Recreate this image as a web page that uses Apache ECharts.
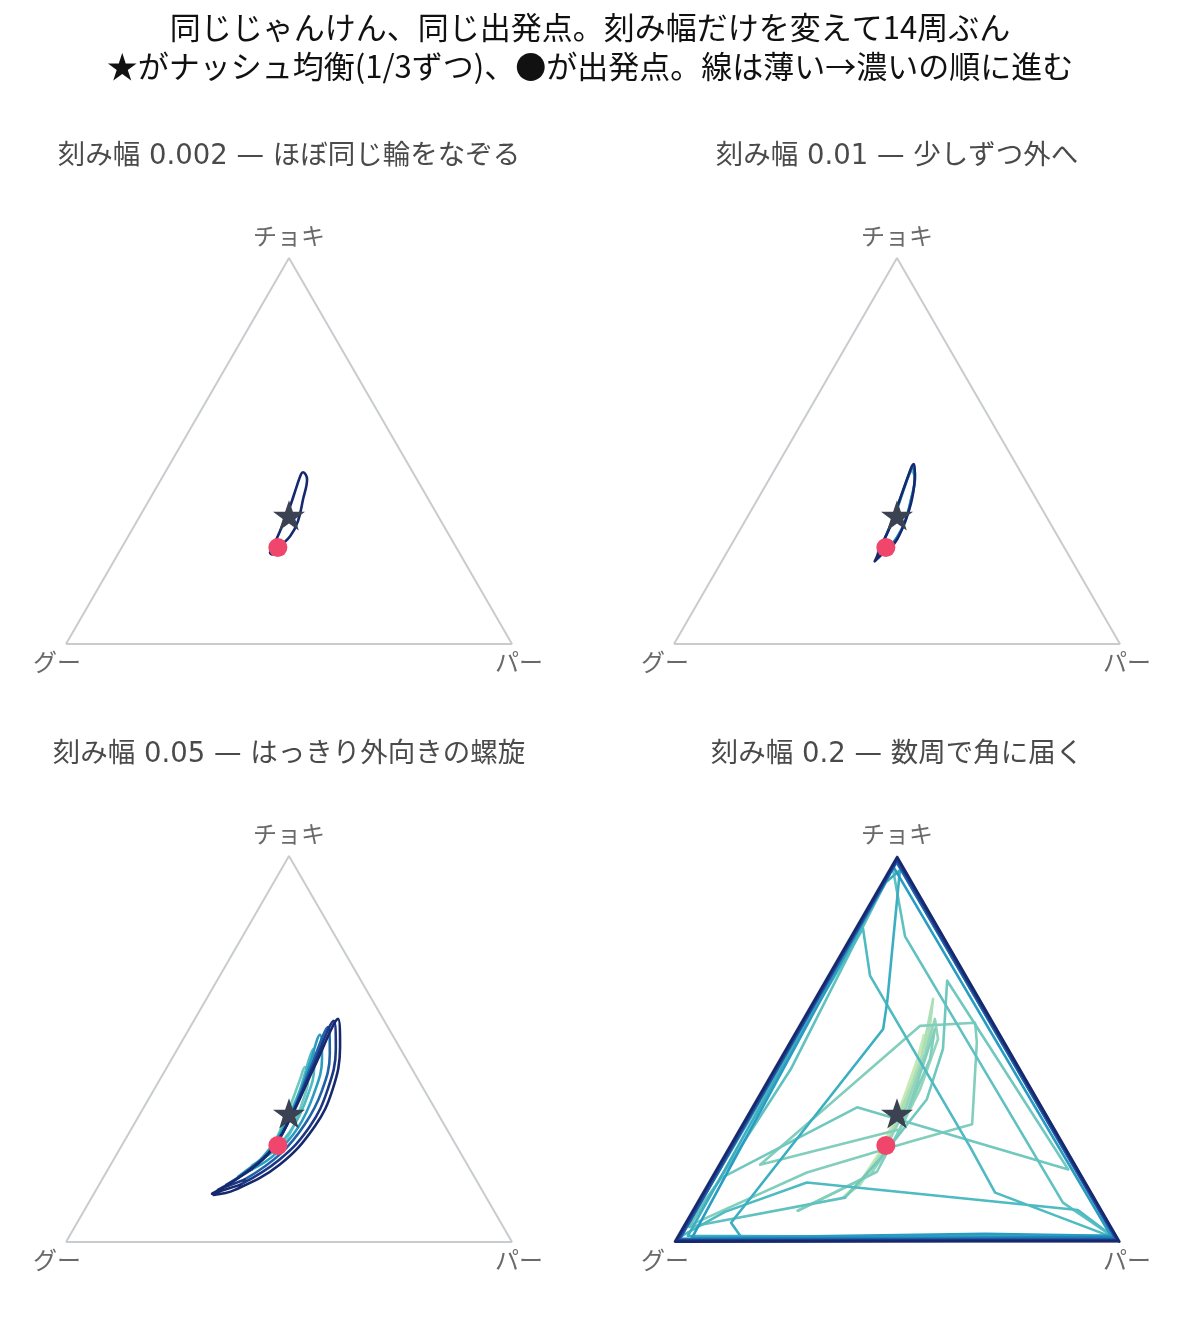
<!DOCTYPE html>
<html><head><meta charset="utf-8">
<script src="https://cdn.jsdelivr.net/npm/echarts@6/dist/echarts.min.js"></script>
<style>html,body{margin:0;padding:0;background:#fff}#c{width:1185px;height:1318px}</style>
</head><body><div id="c"></div><script>
// ---- data (shares: [グー, チョキ, パー]) ----
const mainTitle = ['同じじゃんけん、同じ出発点。刻み幅だけを変えて14周ぶん',
                   '★がナッシュ均衡(1/3ずつ)、●が出発点。線は薄い→濃いの順に進む'];
const panelTitles = ['刻み幅 0.002 — ほぼ同じ輪をなぞる','刻み幅 0.01 — 少しずつ外へ',
                     '刻み幅 0.05 — はっきり外向きの螺旋','刻み幅 0.2 — 数周で角に届く'];
const vertexLabels = ['グー','チョキ','パー'];
const startPoint = [0.40, 0.25, 0.35];
const nashPoint = [1/3, 1/3, 1/3];

const laps0002 = [[
 [0.40,0.25,0.35],[0.422,0.232,0.346],[0.424,0.237,0.339],[0.400,0.263,0.337],[0.363,0.305,0.332],
 [0.319,0.357,0.324],[0.278,0.409,0.313],[0.253,0.440,0.307],[0.246,0.445,0.309],[0.246,0.427,0.327],
 [0.281,0.375,0.344],[0.321,0.318,0.361],[0.358,0.279,0.363],[0.40,0.25,0.35]
]];
const lapNo0002 = [14];

const laps001 = [
 [[0.40,0.25,0.35],[0.423,0.233,0.344],[0.425,0.236,0.339],[0.400,0.263,0.337],[0.362,0.306,0.332],
  [0.318,0.358,0.324],[0.277,0.410,0.313],[0.250,0.443,0.307],[0.244,0.448,0.308],[0.245,0.430,0.325],
  [0.280,0.376,0.344],[0.322,0.318,0.360],[0.360,0.278,0.362],[0.398,0.247,0.355]],
 [[0.434,0.221,0.345],[0.427,0.232,0.341],[0.400,0.263,0.337],[0.359,0.310,0.331],[0.312,0.367,0.321],
  [0.270,0.419,0.311],[0.243,0.451,0.306],[0.236,0.456,0.308],[0.243,0.432,0.324],[0.281,0.375,0.344],
  [0.323,0.318,0.359],[0.362,0.276,0.362],[0.400,0.245,0.355]],
 [[0.443,0.214,0.343],[0.432,0.227,0.342],[0.400,0.263,0.337],[0.354,0.315,0.331],[0.306,0.375,0.319],
  [0.264,0.427,0.309],[0.236,0.461,0.303],[0.229,0.466,0.305],[0.240,0.440,0.320],[0.279,0.375,0.346],
  [0.325,0.315,0.360],[0.365,0.271,0.365],[0.404,0.237,0.359]]
];
const lapNo001 = [6, 10, 14];

const laps005 = [
 [[0.40,0.25,0.35],[0.434,0.227,0.339],[0.396,0.266,0.338],[0.328,0.344,0.328],[0.264,0.422,0.314],
  [0.238,0.453,0.309],[0.246,0.422,0.332],[0.293,0.357,0.350],[0.347,0.292,0.361],[0.394,0.247,0.359]],
 [[0.484,0.198,0.318],[0.438,0.227,0.335],[0.357,0.305,0.338],[0.277,0.396,0.327],[0.218,0.474,0.308],
  [0.196,0.500,0.304],[0.217,0.453,0.330],[0.272,0.375,0.353],[0.343,0.297,0.360],[0.412,0.240,0.348]],
 [[0.530,0.169,0.301],[0.467,0.206,0.327],[0.381,0.279,0.340],[0.297,0.370,0.333],[0.223,0.461,0.316],
  [0.162,0.537,0.301],[0.189,0.474,0.337],[0.253,0.383,0.364],[0.331,0.297,0.372],[0.418,0.227,0.355],
  [0.489,0.188,0.323]],
 [[0.567,0.148,0.285],[0.494,0.188,0.318],[0.403,0.253,0.344],[0.317,0.344,0.339],[0.229,0.448,0.323],
  [0.134,0.557,0.309],[0.165,0.487,0.348],[0.231,0.391,0.378],[0.312,0.305,0.383],[0.407,0.227,0.366],
  [0.518,0.162,0.320]],
 [[0.592,0.135,0.273],[0.516,0.175,0.309],[0.418,0.240,0.342],[0.328,0.331,0.341],[0.225,0.448,0.327],
  [0.113,0.573,0.314],[0.145,0.500,0.355],[0.215,0.396,0.389],[0.303,0.300,0.397],[0.414,0.214,0.372],
  [0.536,0.148,0.316]],
 [[0.610,0.125,0.265],[0.525,0.169,0.306],[0.434,0.227,0.339],[0.339,0.318,0.343],[0.217,0.453,0.330],
  [0.101,0.578,0.321],[0.133,0.505,0.362],[0.204,0.396,0.400],[0.292,0.300,0.408],[0.420,0.201,0.379],
  [0.554,0.135,0.311],[0.608,0.122,0.270]]
];
const lapNo005 = [5, 7, 9, 11, 13, 14];

const laps02 = [
 [[0.40,0.25,0.35],[0.324,0.339,0.337],[0.236,0.448,0.316],[0.172,0.536,0.292],[0.196,0.500,0.304],
  [0.301,0.370,0.329],[0.421,0.234,0.345],[0.513,0.148,0.339],[0.540,0.130,0.330],[0.483,0.174,0.343],
  [0.40,0.25,0.35]],
 [[0.303,0.357,0.340],[0.209,0.474,0.317],[0.104,0.630,0.266],[0.159,0.539,0.302],[0.262,0.409,0.329],
  [0.404,0.245,0.351],[0.509,0.148,0.343],[0.564,0.115,0.321],[0.498,0.161,0.341],[0.407,0.240,0.353]],
 [[0.305,0.349,0.346],[0.194,0.487,0.319],[0.126,0.578,0.296],[0.145,0.526,0.329],[0.250,0.396,0.354],
  [0.372,0.266,0.362],[0.473,0.174,0.353],[0.682,0.081,0.237]],
 [[0.454,0.182,0.364],[0.323,0.318,0.359],[0.200,0.474,0.326],[0.139,0.552,0.309],[0.189,0.474,0.337],
  [0.347,0.292,0.361],[0.707,0.200,0.093],[0.168,0.560,0.272],[0.041,0.568,0.391],[0.062,0.518,0.420],
  [0.179,0.305,0.516],[0.341,0.260,0.399],[0.612,0.180,0.208],[0.960,0.036,0.004]],
 [[0.809,0.167,0.024],[0.415,0.349,0.236],[0.022,0.188,0.790],[0.049,0.677,0.274],[0.147,0.500,0.353],
  [0.248,0.370,0.382],[0.432,0.214,0.354],[0.559,0.115,0.326]],
 [[0.947,0.039,0.014],[0.514,0.448,0.038],[0.025,0.969,0.006],[0.086,0.792,0.122],[0.077,0.102,0.821],
  [0.006,0.010,0.984]],
 [[0.053,0.083,0.864],[0.625,0.154,0.221],[0.847,0.078,0.075],[0.980,0.013,0.007],[0.170,0.8125,0.0175],
  [0.2155,0.690,0.0945],[0.213,0.247,0.540],[0.216,0.128,0.656],[0.006,0.010,0.984]],
 [[0.961,0.016,0.023],[0.059,0.932,0.009],[0.012,0.963,0.025],[0.211,0.622,0.167],[0.255,0.552,0.193],
  [0.847,0.050,0.103],[0.843,0.013,0.144],[0.019,0.016,0.965]],
 [[0.292,0.021,0.687],[0.955,0.010,0.035],[0.022,0.974,0.004],[0.012,0.013,0.975]],
 [[0.983,0.008,0.009],[0.009,0.987,0.004],[0.005,0.008,0.987]],
 [[0.985,0.006,0.009],[0.008,0.985,0.007],[0.006,0.006,0.988]],
 [[0.990,0.004,0.006],[0.005,0.990,0.005],[0.004,0.004,0.992]],
 [[0.994,0.003,0.003],[0.003,0.994,0.003],[0.002,0.003,0.995]],
 [[0.997,0.001,0.002],[0.001,0.997,0.002],[0.001,0.001,0.998]]
];
const lapNo02 = [1,2,3,4,5,6,7,8,9,10,11,12,13,14];

// ---- drawing ----
const H = Math.sqrt(3) / 2;
function toXY(p){ const t = p[0]+p[1]+p[2]; return [(p[2] + p[1]/2)/t, (p[1]/t)*H]; }
const lapPalette = ['#c7e9b4','#8fd3bb','#6cc6be','#45b7c3','#1d91c0','#24479b','#16296f'];
function hex(h){ return [1,3,5].map(i=>parseInt(h.substr(i,2),16)); }
function lapColor(n){
  const t = (n-1)/13*(lapPalette.length-1);
  const i = Math.min(Math.floor(t), lapPalette.length-2), f = t-i;
  const a = hex(lapPalette[i]), b = hex(lapPalette[i+1]);
  return 'rgb(' + [0,1,2].map(k=>Math.round(a[k]+(b[k]-a[k])*f)).join(',') + ')';
}
const FONT = '"Noto Sans CJK JP", "Noto Sans", sans-serif';
const FONT2 = '"DejaVu Sans", "Noto Sans CJK JP", sans-serif';
const panels = [
  {laps: laps0002, lapNo: lapNo0002, smooth: 0.4},
  {laps: laps001, lapNo: lapNo001, smooth: 0.4},
  {laps: laps005, lapNo: lapNo005, smooth: 0.4},
  {laps: laps02, lapNo: lapNo02, smooth: false}
];
const gridPos = [[66,258],[674,258],[66,856],[674,856]];
const starPath = 'path://M50,0 L61.8,35.1 L98.1,35.1 L68.8,56.7 L79.4,91.0 L50,70 L20.6,91.0 L31.2,56.7 L1.9,35.1 L38.2,35.1 Z';

const grid = [], xAxis = [], yAxis = [], series = [], graphic = [];
mainTitle.forEach((t,i)=>graphic.push({type:'text', x:590, y:27+i*39,
  style:{text:t, fill:'#111', font:'31px '+FONT, fontSize:31, fontFamily:FONT,
         textAlign:'center', textVerticalAlign:'middle', align:'center', verticalAlign:'middle'}}));
panels.forEach((pn, i) => {
  const [gl, gt] = gridPos[i];
  grid.push({left:gl, top:gt, width:446, height:386, containLabel:false});
  xAxis.push({gridIndex:i, type:'value', min:0, max:1, show:false});
  yAxis.push({gridIndex:i, type:'value', min:0, max:H, show:false});
  graphic.push({type:'text', x:gl+223, y:gt-101,
    style:{text:panelTitles[i], fill:'#4a4a4a', font:'27.5px '+FONT2, fontSize:27.5, fontFamily:FONT2,
           textAlign:'center', textVerticalAlign:'middle', align:'center', verticalAlign:'middle'}});
  series.push({type:'line', xAxisIndex:i, yAxisIndex:i, silent:true, symbol:'none', clip:false, z:1,
    data:[[1,0,0],[0,0,1],[0,1,0],[1,0,0]].map(toXY), lineStyle:{color:'#c9cccf', width:2}});
  pn.laps.forEach((lap, k) => {
    const pts = (k > 0 ? [pn.laps[k-1][pn.laps[k-1].length-1]] : []).concat(lap);
    series.push({type:'line', xAxisIndex:i, yAxisIndex:i, silent:true, symbol:'none', clip:false,
      z:2+k, smooth:pn.smooth, data:pts.map(toXY),
      lineStyle:{color:lapColor(pn.lapNo[k]), width:2.6, join:'round', cap:'round'}});
  });
  series.push({type:'scatter', xAxisIndex:i, yAxisIndex:i, silent:true, symbolSize:1, z:30,
    itemStyle:{color:'rgba(0,0,0,0)'},
    data:[
      {value:toXY([1,0,0]), label:{show:true, formatter:vertexLabels[0], position:'inside', offset:[-9,18]}},
      {value:toXY([0,1,0]), label:{show:true, formatter:vertexLabels[1], position:'inside', offset:[0,-22]}},
      {value:toXY([0,0,1]), label:{show:true, formatter:vertexLabels[2], position:'inside', offset:[7,18]}}
    ],
    label:{color:'#444', fontSize:24, fontFamily:FONT}});
  series.push({type:'scatter', xAxisIndex:i, yAxisIndex:i, silent:true, z:50, symbol:starPath,
    symbolSize:32, symbolKeepAspect:true, itemStyle:{color:'#3b4252', opacity:1}, data:[toXY(nashPoint)]});
  series.push({type:'scatter', xAxisIndex:i, yAxisIndex:i, silent:true, z:51, symbol:'circle',
    symbolSize:19, itemStyle:{color:'#f0466b', opacity:1}, data:[toXY(startPoint)]});
});
const chart = echarts.init(document.getElementById('c'));
chart.setOption({animation:false, backgroundColor:'#fff', grid, xAxis, yAxis, series, graphic});
</script></body></html>
